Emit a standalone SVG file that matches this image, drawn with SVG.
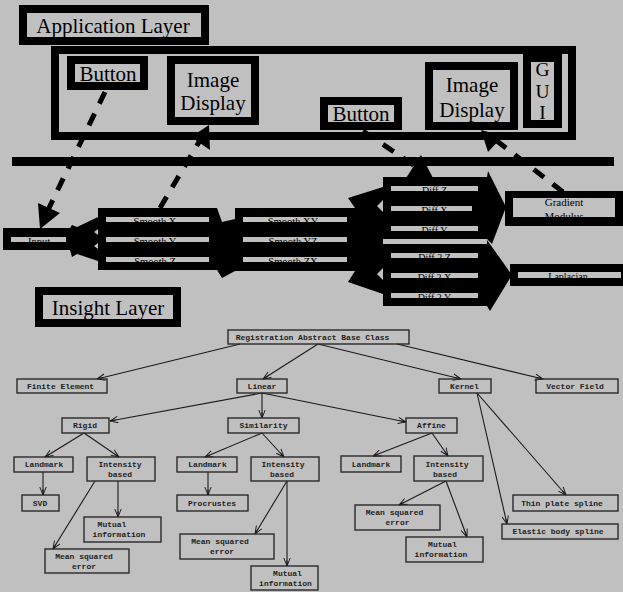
<svg xmlns="http://www.w3.org/2000/svg" width="623" height="592" viewBox="0 0 623 592">
<style>
.frame{fill:none;stroke:#000;stroke-width:8}
.big{font-family:"Liberation Serif",serif;font-size:21px;fill:#000;text-anchor:middle}
.small{font-family:"Liberation Serif",serif;font-size:10.5px;fill:#000;text-anchor:middle}
.blk{fill:#000}
.bar{fill:#c0c0c0}
.dash{fill:none;stroke:#000;stroke-width:5;stroke-dasharray:13 11}
.tb{fill:none;stroke:#2a2a2a;stroke-width:1.4}
.tt{font-family:"Liberation Mono",monospace;font-size:8px;font-weight:bold;fill:#1e1e1e;text-anchor:middle}
.tl{fill:none;stroke:#1a1a1a;stroke-width:1.1;marker-end:url(#ah)}
</style>
<defs>
<marker id="ah" viewBox="0 0 10 10" refX="10" refY="5" markerWidth="9" markerHeight="8" markerUnits="userSpaceOnUse" orient="auto">
<path d="M0,1 L10,5 L0,9 M3,5 L10,5" fill="none" stroke="#1a1a1a" stroke-width="1.2"/>
</marker>
</defs>
<rect x="0" y="0" width="623" height="592" fill="#c0c0c0"/>

<!-- Application layer -->
<g id="app-layer"><rect class="frame" x="23" y="9" width="182" height="32"/><text class="big" x="113" y="33">Application Layer</text></g>
<g id="gui-frame"><rect class="frame" x="55" y="50" width="517" height="86"/></g>
<g id="button1"><rect class="frame" x="71" y="60" width="73" height="26"/><text class="big" x="108" y="81">Button</text></g>
<g id="image-display1"><rect class="frame" x="171" y="60" width="84" height="61"/><text class="big" x="213" y="87">Image</text><text class="big" x="213" y="110">Display</text></g>
<g id="button2"><rect class="frame" x="324" y="101" width="74" height="25"/><text class="big" x="361" y="121">Button</text></g>
<g id="image-display2"><rect class="frame" x="429" y="66" width="85" height="60"/><text class="big" x="472" y="92">Image</text><text class="big" x="472" y="117">Display</text></g>
<g id="gui"><rect class="frame" x="527" y="58" width="31" height="66"/><text class="big" style="font-size:19.5px" x="542.5" y="76">G</text><text class="big" style="font-size:19.5px" x="542.5" y="98">U</text><text class="big" style="font-size:19.5px" x="542.5" y="119">I</text></g>
<g id="separator"><rect class="blk" x="12" y="157" width="602" height="9"/></g>

<!-- Insight pipeline -->
<g id="connectors">
<polyline class="dash" points="105,92 48,210"/>
<polygon class="blk" points="38,203 60,213 40,229"/>
<polyline class="dash" points="160,208 199,142"/>
<polygon class="blk" points="209,125 191,137 210,150"/>
<polyline class="dash" points="363,131 415,166"/>
<polygon class="blk" points="421,155 406,178 433,178"/>
<polyline class="dash" points="563,192 497,141"/>
<polygon class="blk" points="481,130 503,136 488,152"/>
<polygon class="blk" points="70,228 72,225 77,227 98,217 98,229 94,232 98,235 98,243 94,246 98,249 98,261 77,254 72,257 70,250"/>
<polygon class="blk" points="217,208 222,222 235,219 235,271 222,278 217,270"/>
<polygon class="blk" points="355,208 348,198 383,187 383,200 377,206 383,212 383,268 377,274 383,280 383,294 348,282 355,271"/>
<polygon class="blk" points="487,177 488,171 506,207 492,244 487,239"/>
<polygon class="blk" points="487,244 487,240 512,275 490,311 487,306"/>
</g>
<g id="input"><rect class="blk" x="3" y="228" width="67" height="22"/><rect class="bar" x="11" y="237" width="55" height="5"/><text class="small" x="39" y="245">Input</text></g>
<g id="smooth"><rect class="blk" x="98" y="208" width="119" height="62"/>
<rect class="bar" x="106" y="217" width="103" height="5"/><rect class="bar" x="106" y="237" width="103" height="5"/><rect class="bar" x="106" y="257" width="103" height="5"/>
<text class="small" x="155" y="225">Smooth X</text><text class="small" x="155" y="245">Smooth Y</text><text class="small" x="155" y="265">Smooth Z</text></g>
<g id="smooth2"><rect class="blk" x="235" y="208" width="120" height="63"/>
<rect class="bar" x="243" y="217" width="104" height="5"/><rect class="bar" x="243" y="237" width="104" height="5"/><rect class="bar" x="243" y="257" width="104" height="5"/>
<text class="small" x="293" y="225">Smooth XY</text><text class="small" x="293" y="245">Smooth YZ</text><text class="small" x="293" y="265">Smooth ZX</text></g>
<g id="diff1"><rect class="blk" x="383" y="177" width="104" height="62"/>
<rect class="bar" x="391" y="186" width="87" height="5"/><rect class="bar" x="391" y="206" width="81" height="5"/><rect class="bar" x="391" y="226" width="87" height="5"/>
<text class="small" style="font-size:10px" x="434.5" y="193.5">Diff Z</text><text class="small" style="font-size:10px" x="434.5" y="213.5">Diff X</text><text class="small" style="font-size:10px" x="434.5" y="233.5">Diff Y</text></g>
<g id="diff2"><rect class="blk" x="383" y="244" width="104" height="62"/>
<rect class="bar" x="391" y="253" width="87" height="5"/><rect class="bar" x="391" y="273" width="87" height="5"/><rect class="bar" x="391" y="293" width="87" height="5"/>
<text class="small" style="font-size:10px" x="434.5" y="260.5">Diff 2 Z</text><text class="small" style="font-size:10px" x="434.5" y="280.5">Diff 2 X</text><text class="small" style="font-size:10px" x="434.5" y="300.5">Diff 2 Y</text></g>
<g id="gradient"><rect class="blk" x="505" y="191" width="118" height="35"/><rect class="bar" x="513" y="198" width="102" height="19"/>
<text class="small" style="font-size:11px" x="564" y="206">Gradient</text><text class="small" style="font-size:11px" x="564" y="220">Modulus</text></g>
<g id="laplacian"><rect class="blk" x="510" y="264" width="113" height="22"/><rect class="bar" x="518" y="272" width="103" height="6"/><text class="small" style="font-size:10px" x="568" y="280">Laplacian</text></g>
<g id="insight-layer"><rect class="frame" x="39" y="291" width="138" height="32"/><text class="big" x="108" y="315">Insight Layer</text></g>

<!-- Registration tree -->
<g id="tree-connectors">
<line class="tl" x1="240" y1="344" x2="97" y2="379"/>
<line class="tl" x1="318" y1="344" x2="263" y2="379"/>
<line class="tl" x1="318" y1="344" x2="461" y2="379"/>
<line class="tl" x1="397" y1="344" x2="543" y2="379"/>
<line class="tl" x1="262" y1="393" x2="110" y2="421"/>
<line class="tl" x1="262" y1="393" x2="262" y2="418"/>
<line class="tl" x1="262" y1="393" x2="406" y2="422"/>
<line class="tl" x1="477" y1="393" x2="566" y2="495"/>
<line class="tl" x1="477" y1="393" x2="507" y2="524"/>
<line class="tl" x1="84" y1="433" x2="45" y2="457"/>
<line class="tl" x1="84" y1="433" x2="119" y2="457"/>
<line class="tl" x1="262" y1="433" x2="205" y2="457"/>
<line class="tl" x1="262" y1="433" x2="284" y2="457"/>
<line class="tl" x1="432" y1="433" x2="373" y2="456"/>
<line class="tl" x1="432" y1="433" x2="448" y2="456"/>
<line class="tl" x1="43" y1="472" x2="43" y2="495"/>
<line class="tl" x1="118" y1="481" x2="118" y2="517"/>
<line class="tl" x1="95" y1="481" x2="53" y2="549"/>
<line class="tl" x1="208" y1="472" x2="208" y2="495"/>
<line class="tl" x1="287" y1="481" x2="255" y2="534"/>
<line class="tl" x1="287" y1="481" x2="287" y2="566"/>
<line class="tl" x1="446" y1="481" x2="399" y2="505"/>
<line class="tl" x1="446" y1="481" x2="467" y2="537"/>
</g>
<g id="reg-base"><rect class="tb" x="228" y="330" width="181" height="14"/><text class="tt" x="312.5" y="340">Registration Abstract Base Class</text></g>
<g id="finite-element"><rect class="tb" x="17" y="379" width="90" height="14"/><text class="tt" x="60.5" y="389">Finite Element</text></g>
<g id="linear"><rect class="tb" x="237" y="379" width="50" height="14"/><text class="tt" x="262" y="389">Linear</text></g>
<g id="kernel"><rect class="tb" x="439" y="379" width="52" height="14"/><text class="tt" x="464.5" y="389">Kernel</text></g>
<g id="vector-field"><rect class="tb" x="536" y="379" width="82" height="14"/><text class="tt" x="575" y="389">Vector Field</text></g>
<g id="rigid"><rect class="tb" x="62" y="418" width="47" height="15"/><text class="tt" x="85" y="428">Rigid</text></g>
<g id="similarity"><rect class="tb" x="228" y="418" width="71" height="15"/><text class="tt" x="263.5" y="428">Similarity</text></g>
<g id="affine"><rect class="tb" x="406" y="418" width="51" height="15"/><text class="tt" x="431.5" y="428">Affine</text></g>
<g id="landmark-r"><rect class="tb" x="14" y="457" width="59" height="15"/><text class="tt" x="44" y="467">Landmark</text></g>
<g id="intensity-r"><rect class="tb" x="87" y="457" width="68" height="24"/><text class="tt" x="120" y="467">Intensity</text><text class="tt" x="120" y="477">based</text></g>
<g id="svd"><rect class="tb" x="22" y="495" width="37" height="16"/><text class="tt" x="40" y="506">SVD</text></g>
<g id="mutual-r"><rect class="tb" x="84" y="517" width="77" height="25"/><text class="tt" x="112" y="527">Mutual</text><text class="tt" x="119" y="537">information</text></g>
<g id="mse-r"><rect class="tb" x="45" y="549" width="84" height="24"/><text class="tt" x="84" y="559">Mean squared</text><text class="tt" x="84" y="569">error</text></g>
<g id="landmark-s"><rect class="tb" x="177" y="457" width="60" height="15"/><text class="tt" x="207.5" y="467">Landmark</text></g>
<g id="intensity-s"><rect class="tb" x="251" y="457" width="68" height="24"/><text class="tt" x="283" y="467">Intensity</text><text class="tt" x="282" y="477">based</text></g>
<g id="procrustes"><rect class="tb" x="177" y="495" width="71" height="16"/><text class="tt" x="212" y="506">Procrustes</text></g>
<g id="mse-s"><rect class="tb" x="180" y="534" width="94" height="25"/><text class="tt" x="220" y="544">Mean squared</text><text class="tt" x="222" y="554">error</text></g>
<g id="mutual-s"><rect class="tb" x="251" y="566" width="67" height="24"/><text class="tt" x="287.5" y="576">Mutual</text><text class="tt" x="285.5" y="586">information</text></g>
<g id="landmark-a"><rect class="tb" x="341" y="456" width="60" height="16"/><text class="tt" x="371" y="467">Landmark</text></g>
<g id="intensity-a"><rect class="tb" x="414" y="456" width="69" height="25"/><text class="tt" x="447" y="467">Intensity</text><text class="tt" x="445" y="477">based</text></g>
<g id="mse-a"><rect class="tb" x="355" y="505" width="85" height="25"/><text class="tt" x="394.5" y="515">Mean squared</text><text class="tt" x="397.5" y="525">error</text></g>
<g id="mutual-a"><rect class="tb" x="406" y="537" width="77" height="25"/><text class="tt" x="442.5" y="547">Mutual</text><text class="tt" x="441" y="557">information</text></g>
<g id="thin-plate"><rect class="tb" x="513" y="495" width="105" height="16"/><text class="tt" x="562" y="506">Thin plate spline</text></g>
<g id="elastic-body"><rect class="tb" x="502" y="524" width="116" height="15"/><text class="tt" x="558" y="534">Elastic body spline</text></g>
</svg>
